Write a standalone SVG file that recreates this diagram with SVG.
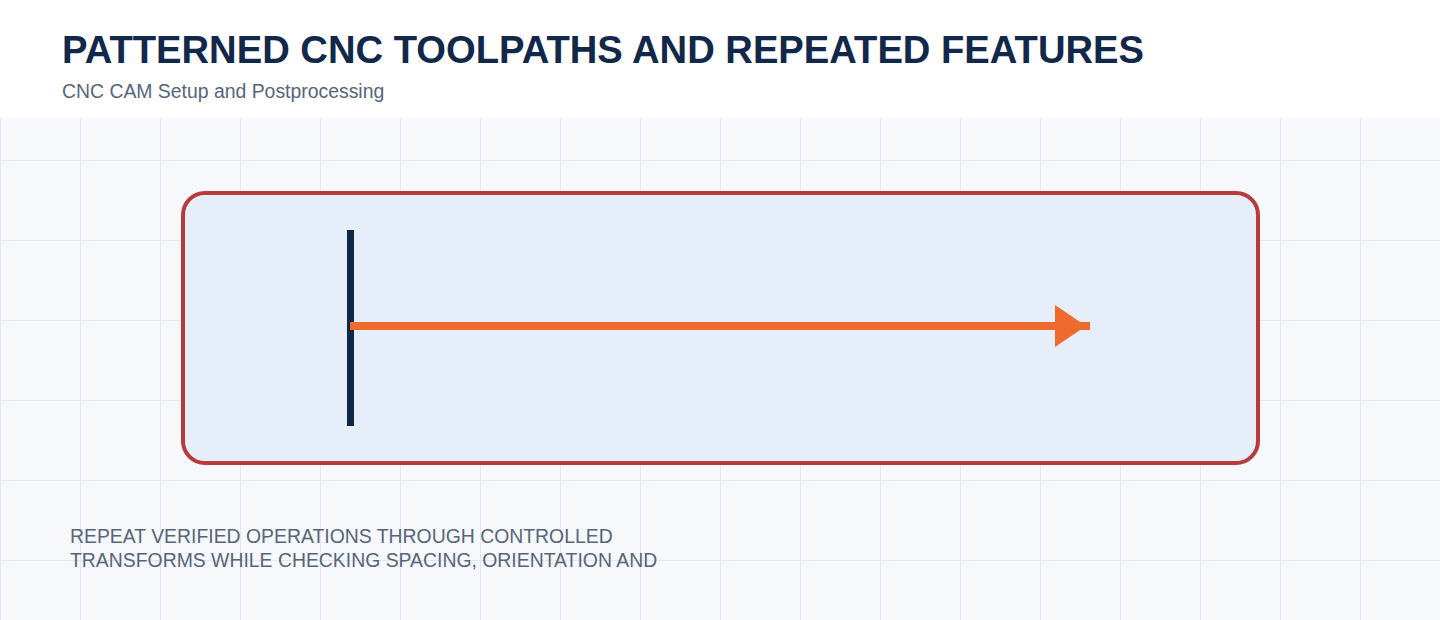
<svg xmlns="http://www.w3.org/2000/svg" width="1440" height="620" viewBox="0 0 1440 620">
  <defs>
    <pattern id="grid" x="0" y="0" width="80" height="80" patternUnits="userSpaceOnUse">
      <path d="M0.5 0 V80 M0 0.5 H80" fill="none" stroke="#e2e7ef" stroke-width="1"/>
    </pattern>
    <style>
      .title { font-family: "Liberation Sans", Arial, sans-serif; font-weight: bold; font-size: 38.2px; fill: #12284a; }
      .sub { font-family: "Liberation Sans", Arial, sans-serif; font-size: 19.4px; fill: #56657a; }
      .note { font-family: "Liberation Sans", Arial, sans-serif; font-size: 19.4px; fill: #56657a; }
    </style>
  </defs>
  <rect x="0" y="0" width="1440" height="620" fill="#ffffff"/>
  <rect x="0" y="118" width="1440" height="502" fill="#f6f8fc"/>
  <rect x="0" y="118" width="1440" height="502" fill="url(#grid)"/>
  <text class="title" x="62" y="63">PATTERNED CNC TOOLPATHS AND REPEATED FEATURES</text>
  <text class="sub" x="62" y="98">CNC CAM Setup and Postprocessing</text>
  <g id="frame">
    <rect x="183" y="193" width="1075" height="270" rx="22" fill="#e6eef9" stroke="#b83b3b" stroke-width="4"/>
  </g>
  <g id="start-bar">
    <rect x="347" y="230" width="7" height="196" fill="#0f2747"/>
  </g>
  <g id="connectors">
    <line x1="350" y1="326" x2="1090" y2="326" stroke="#ee6a2e" stroke-width="8"/>
    <polygon points="1055,305 1086,326 1055,347" fill="#ee6a2e"/>
  </g>
  <g id="caption">
    <text class="note" x="70" y="543">REPEAT VERIFIED OPERATIONS THROUGH CONTROLLED</text>
    <text class="note" x="70" y="567">TRANSFORMS WHILE CHECKING SPACING, ORIENTATION AND</text>
  </g>
</svg>
